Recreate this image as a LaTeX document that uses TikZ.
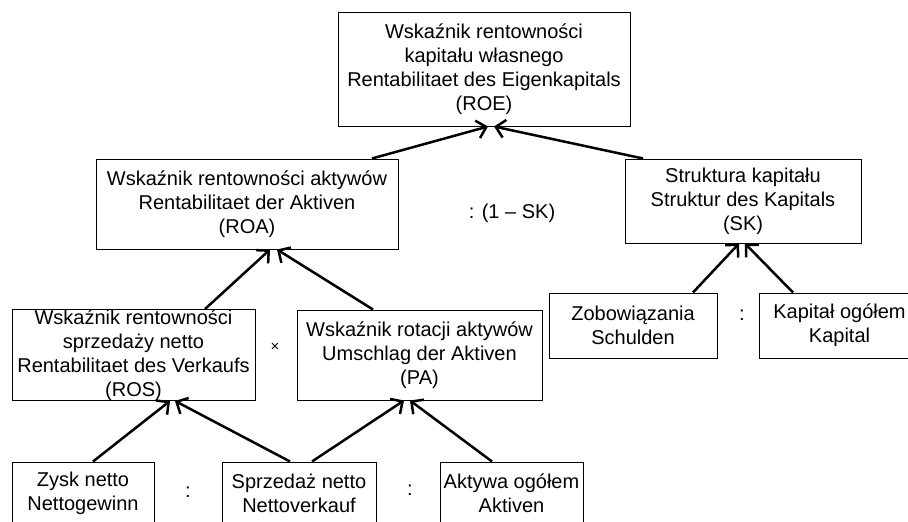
\documentclass[tikz,border=0pt]{standalone}
\usepackage{fontspec}
\setmainfont{Liberation Sans}
\usetikzlibrary{arrows.meta}
\begin{document}
\begin{tikzpicture}[x=1pt,y=-1pt,
  box/.style={draw, line width=1pt, align=center, inner sep=0pt, font=\fontsize{20}{24}\selectfont},
  arr/.style={line width=2.5pt, -{Straight Barb[length=9pt,width=18pt]}},
  lbl/.style={font=\fontsize{20}{24}\selectfont, inner sep=0pt}]
\useasboundingbox (0,0) rectangle (908,522);
% boxes
\node[box, minimum width=292pt, minimum height=114pt] (roe) at (484,69)
  {Wskaźnik rentowności\\kapitału własnego\\Rentabilitaet des Eigenkapitals\\(ROE)};
\node[box, minimum width=302pt, minimum height=90pt] (roa) at (247,204)
  {Wskaźnik rentowności aktywów\\Rentabilitaet der Aktiven\\(ROA)};
\node[box, minimum width=236pt, minimum height=84pt] (sk) at (743,201)
  {Struktura kapitału\\Struktur des Kapitals\\(SK)};
\node[box, minimum width=243pt, minimum height=90pt] (ros) at (133.5,355)
  {Wskaźnik rentowności\\sprzedaży netto\\Rentabilitaet des Verkaufs\\(ROS)};
\node[box, minimum width=245pt, minimum height=90pt] (pa) at (419.5,355)
  {Wskaźnik rotacji aktywów\\Umschlag der Aktiven\\(PA)};
\node[box, minimum width=168pt, minimum height=65pt] (zob) at (633,325.5)
  {Zobowiązania\\Schulden};
\node[box, minimum width=161pt, minimum height=65pt] (kap) at (839.5,325.5)
  {Kapitał ogółem\\Kapital};
\node[box, minimum width=142pt, minimum height=62pt] (zysk) at (83,493)
  {Zysk netto\\Nettogewinn};
\node[box, minimum width=154pt, minimum height=62pt] (spr) at (299,493)
  {Sprzedaż netto\\Nettoverkauf};
\node[box, minimum width=143pt, minimum height=62pt] (akt) at (511.5,493)
  {Aktywa ogółem\\Aktiven};
% operators
\node[lbl] (op1) at (512,213) {: (1 – SK)};
\node[lbl, font=\fontsize{15}{18}\selectfont] (op2) at (275,347) {×};
\node[lbl] (op3) at (742,315) {:};
\node[lbl] (op4) at (188,492) {:};
\node[lbl] (op5) at (410,490) {:};
% arrows
\draw[arr] ([xshift=125pt]roa.north) -- ([xshift=4pt]roe.south);
\draw[arr] ([xshift=-100pt]sk.north) -- ([xshift=10pt]roe.south);
\draw[arr] ([xshift=71.5pt]ros.north) -- ([xshift=23pt]roa.south);
\draw[arr] ([xshift=-46.5pt]pa.north) -- ([xshift=30pt]roa.south);
\draw[arr] ([xshift=10pt]zysk.north) -- ([xshift=36.5pt]ros.south);
\draw[arr] ([xshift=-9pt]spr.north) -- ([xshift=41.5pt]ros.south);
\draw[arr] ([xshift=13pt]spr.north) -- ([xshift=-15.5pt]pa.south);
\draw[arr] ([xshift=-19.5pt]akt.north) -- ([xshift=-9.5pt]pa.south);
\draw[arr] ([xshift=60pt]zob.north) -- ([xshift=-4pt]sk.south);
\draw[arr] ([xshift=-46.5pt]kap.north) -- ([xshift=2pt]sk.south);
\end{tikzpicture}
\end{document}
